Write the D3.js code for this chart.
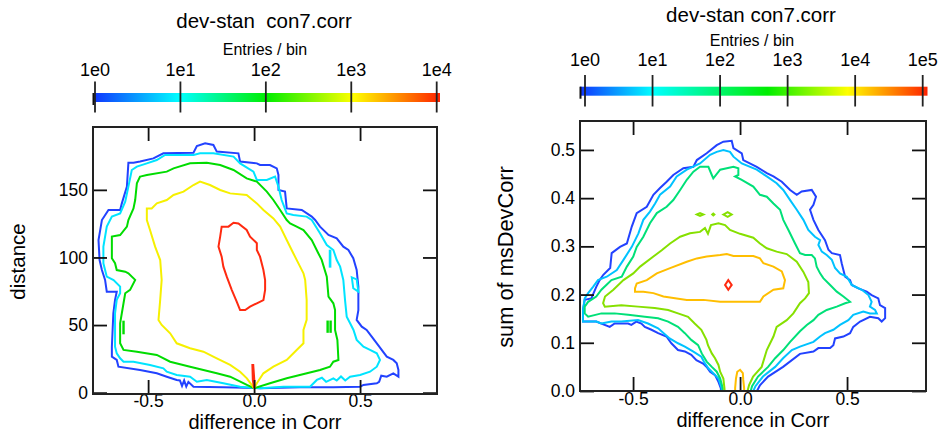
<!DOCTYPE html>
<html><head><meta charset="utf-8">
<script src="https://cdn.jsdelivr.net/npm/d3@7"></script>
<style>
html,body{margin:0;padding:0;background:#fff;}
svg{display:block;font-family:"Liberation Sans",Arial,Helvetica,sans-serif;}
</style></head><body>
<svg id="c" width="938" height="434"></svg>
<script>
// ---------------- DATA ----------------
// Left panel: x = difference in Corr, y = distance
const leftXTicks = [-0.5, 0, 0.5];
const leftYTicks = [0, 50, 100, 150];
const leftCbValues = [1, 10, 100, 1000, 10000];
const leftCbLabels = ["1e0", "1e1", "1e2", "1e3", "1e4"];

const leftBlue = [[-0.593,170],[-0.569,170],[-0.538,171],[-0.475,173.3],[-0.428,177],[-0.286,177.5],[-0.270,182.4],[-0.231,184.4],[-0.192,183.2],[-0.176,178.3],[-0.074,177],[-0.066,170.9],[0.013,169.6],[0.028,168.4],[0.075,168.4],[0.107,165.9],[0.115,161],[0.115,149.9],[0.146,148.7],[0.154,136.3],[0.225,135.1],[0.272,130.2],[0.288,127.7],[0.311,122.8],[0.351,116.6],[0.390,114.2],[0.421,108],[0.445,105.5],[0.468,99.4],[0.484,90.8],[0.492,78.4],[0.492,68.5],[0.492,61.1],[0.484,53.8],[0.508,48.8],[0.531,46.4],[0.555,41.4],[0.579,36.5],[0.602,31.6],[0.626,26.6],[0.657,24.2],[0.673,21.7],[0.681,16.8],[0.681,11.8],[0.657,14.3],[0.626,11.8],[0.600,12.5],[0.590,8],[0.579,6.9],[0.516,5.7],[0.500,4.4],[0.374,4],[0.217,4],[0.028,3.3],[-0.145,4],[-0.286,4.4],[-0.31,8],[-0.32,4.5],[-0.33,9],[-0.34,5],[-0.35,9],[-0.365,9.4],[-0.412,11.8],[-0.459,14.3],[-0.538,16.8],[-0.640,19.2],[-0.648,24.2],[-0.671,26.6],[-0.671,34],[-0.664,58.7],[-0.656,68.6],[-0.648,74.7],[-0.695,74.7],[-0.703,83.4],[-0.718,90.7],[-0.729,98.1],[-0.734,112.9],[-0.718,127.7],[-0.687,135.1],[-0.632,135.1],[-0.624,140],[-0.600,152.4]];
const leftCyan = [[-0.577,164.7],[-0.553,167.2],[-0.506,169.6],[-0.459,172.1],[-0.420,175.8],[-0.286,175.8],[-0.255,177],[-0.192,177],[-0.097,174.6],[-0.066,169.6],[-0.003,163.5],[0.013,157.3],[0.060,157.3],[0.099,159.8],[0.115,152.4],[0.130,142.5],[0.154,132.6],[0.185,131.4],[0.248,130.2],[0.272,127.7],[0.311,117.9],[0.343,109.2],[0.374,105.5],[0.390,98.1],[0.406,93.2],[0.421,83.4],[0.429,68.6],[0.437,56.2],[0.453,51.3],[0.469,46.4],[0.484,39],[0.516,34],[0.547,31.6],[0.579,29.1],[0.594,24.2],[0.579,19.2],[0.547,15.5],[0.500,13.1],[0.453,11.8],[0.43,9],[0.41,12],[0.39,9],[0.374,10.6],[0.34,8],[0.32,11],[0.296,9.4],[0.264,4.4],[0.138,4.4],[0.028,3.3],[-0.066,4.4],[-0.145,6.9],[-0.223,9.4],[-0.270,8.1],[-0.302,11.8],[-0.365,13.1],[-0.412,15.5],[-0.428,18],[-0.491,20.5],[-0.569,22.9],[-0.616,22.9],[-0.632,25.4],[-0.648,29.1],[-0.656,34],[-0.656,58.7],[-0.648,68.6],[-0.632,73.5],[-0.632,78.4],[-0.663,83.3],[-0.695,85.8],[-0.711,95.7],[-0.711,108],[-0.695,122.8],[-0.671,130.2],[-0.632,132.6],[-0.608,141.3],[-0.593,152.4]];
const leftCyanIsland1 = [[0.461,85.3],[0.484,83.8],[0.492,74.7],[0.468,77.2]];
const leftCyanIsland2 = [[0.357,105],[0.360,105],[0.360,93.2],[0.357,93.2]];
const leftGreen = [[-0.538,159.8],[-0.506,161],[-0.412,163.5],[-0.380,165.9],[-0.302,169.6],[-0.223,170.1],[-0.160,168.4],[-0.097,164.7],[-0.035,158.5],[0.013,156.1],[0.060,148.7],[0.091,142.5],[0.123,135.1],[0.154,127.7],[0.170,125.2],[0.201,122.8],[0.233,120.3],[0.272,112.9],[0.303,103.1],[0.319,98.2],[0.343,85.8],[0.351,71],[0.374,66.1],[0.382,61.2],[0.382,46.4],[0.393,39],[0.398,24.2],[0.374,22.9],[0.358,19.2],[0.311,16.8],[0.249,14.3],[0.154,10.6],[0.075,6.9],[0,3.3],[-0.034,5.7],[-0.113,11.8],[-0.176,14.3],[-0.239,16.8],[-0.302,19.2],[-0.396,22.9],[-0.459,27.9],[-0.553,30.3],[-0.616,31.6],[-0.632,36.5],[-0.632,51.3],[-0.624,58.7],[-0.616,66.1],[-0.608,73.5],[-0.585,76],[-0.561,83.4],[-0.593,88.3],[-0.608,89.5],[-0.648,90.7],[-0.656,95.7],[-0.671,99.4],[-0.671,115.4],[-0.632,116.6],[-0.600,122.8],[-0.593,127.7],[-0.569,136.3],[-0.561,142.5],[-0.553,154.8]];
const leftGreenIsland1 = [[-0.617,52.5],[-0.615,52.5],[-0.615,43.9],[-0.617,43.9]];
const leftGreenIsland2 = [[0.346,52.6],[0.348,52.6],[0.348,45],[0.346,45]];
const leftGreenIsland3 = [[0.360,52.6],[0.362,52.6],[0.362,45],[0.360,45]];
const leftYellow = [[-0.506,136.3],[-0.483,136.3],[-0.459,140],[-0.412,142.5],[-0.380,146.2],[-0.333,148.7],[-0.286,153.6],[-0.255,156.1],[-0.208,153.6],[-0.160,149.9],[-0.113,147.4],[-0.035,146.2],[0.013,140],[0.044,135.1],[0.091,128.9],[0.123,122.8],[0.154,112.9],[0.185,103.1],[0.217,93.2],[0.233,88.3],[0.241,83.4],[0.248,68.6],[0.248,53.8],[0.233,46.4],[0.233,36.5],[0.201,31.6],[0.154,24.2],[0.091,19.2],[0.044,14.3],[0.013,6.9],[0,3.3],[-0.034,10.6],[-0.066,15.5],[-0.113,20.5],[-0.176,25.4],[-0.239,30.3],[-0.302,32.8],[-0.365,36.5],[-0.396,43.9],[-0.436,50.1],[-0.451,53.8],[-0.443,68.6],[-0.436,83.4],[-0.443,98.1],[-0.467,108],[-0.491,120.3],[-0.506,127.7]];
const leftRed = [[-0.153,122.8],[-0.121,122.8],[-0.097,125.7],[-0.074,125.2],[-0.035,120.3],[-0.019,115.4],[0.013,110.5],[0.013,105.5],[0.028,100.6],[0.044,90.7],[0.052,83.3],[0.052,75.9],[0.044,68.5],[0.013,66.1],[-0.019,63.6],[-0.042,61.1],[-0.066,61.1],[-0.082,67.3],[-0.105,75.9],[-0.129,85.8],[-0.145,93.2],[-0.153,100.6],[-0.168,108],[-0.160,115.4]];
const leftRedSpike = [[-0.008,20.5],[-0.004,20.5],[0.001,9.4],[0,3.3],[-0.006,9.4]];

// Right panel: x = difference in Corr, y = sum of msDevCorr
const rightXTicks = [-0.5, 0, 0.5];
const rightYTicks = [0, 0.1, 0.2, 0.3, 0.4, 0.5];
const rightCbValues = [1, 10, 100, 1000, 10000, 100000];
const rightCbLabels = ["1e0", "1e1", "1e2", "1e3", "1e4", "1e5"];

const rightBlue = [[-0.089,0],[-0.090,0.006],[-0.101,0.019],[-0.117,0.033],[-0.140,0.040],[-0.156,0.050],[-0.173,0.057],[-0.204,0.064],[-0.228,0.075],[-0.258,0.082],[-0.290,0.085],[-0.321,0.099],[-0.344,0.113],[-0.383,0.120],[-0.414,0.127],[-0.445,0.133],[-0.461,0.140],[-0.485,0.144],[-0.508,0.137],[-0.523,0.140],[-0.586,0.140],[-0.609,0.133],[-0.672,0.144],[-0.734,0.144],[-0.734,0.168],[-0.726,0.189],[-0.695,0.192],[-0.672,0.216],[-0.656,0.230],[-0.639,0.241],[-0.607,0.255],[-0.600,0.286],[-0.561,0.299],[-0.529,0.306],[-0.506,0.341],[-0.483,0.369],[-0.436,0.382],[-0.405,0.407],[-0.374,0.421],[-0.343,0.434],[-0.312,0.448],[-0.265,0.462],[-0.218,0.465],[-0.202,0.479],[-0.156,0.493],[-0.109,0.510],[-0.078,0.517],[-0.039,0.519],[-0.031,0.504],[0.008,0.493],[0.015,0.479],[0.078,0.465],[0.125,0.452],[0.156,0.445],[0.195,0.434],[0.234,0.417],[0.265,0.407],[0.288,0.414],[0.335,0.417],[0.355,0.403],[0.343,0.386],[0.327,0.376],[0.343,0.355],[0.366,0.334],[0.397,0.313],[0.413,0.293],[0.429,0.286],[0.467,0.282],[0.475,0.265],[0.483,0.251],[0.491,0.237],[0.514,0.230],[0.522,0.220],[0.553,0.213],[0.592,0.206],[0.615,0.199],[0.646,0.192],[0.654,0.178],[0.678,0.172],[0.678,0.151],[0.662,0.144],[0.646,0.151],[0.607,0.154],[0.561,0.144],[0.529,0.133],[0.514,0.120],[0.483,0.113],[0.444,0.109],[0.436,0.095],[0.421,0.089],[0.366,0.089],[0.343,0.082],[0.280,0.077],[0.201,0.050],[0.131,0.030],[0.093,0.012],[0.079,0]];
const rightCyan = [[-0.086,0],[-0.086,0.006],[-0.101,0.026],[-0.125,0.037],[-0.148,0.047],[-0.168,0.060],[-0.181,0.071],[-0.220,0.082],[-0.258,0.092],[-0.290,0.099],[-0.329,0.109],[-0.383,0.130],[-0.430,0.140],[-0.477,0.147],[-0.555,0.144],[-0.601,0.144],[-0.648,0.140],[-0.672,0.144],[-0.734,0.144],[-0.734,0.168],[-0.726,0.192],[-0.710,0.203],[-0.687,0.216],[-0.664,0.230],[-0.623,0.237],[-0.576,0.251],[-0.545,0.272],[-0.506,0.299],[-0.475,0.327],[-0.452,0.355],[-0.421,0.372],[-0.397,0.389],[-0.374,0.407],[-0.327,0.424],[-0.296,0.445],[-0.249,0.459],[-0.187,0.472],[-0.140,0.490],[-0.109,0.496],[-0.078,0.500],[-0.047,0.496],[-0.031,0.486],[0.008,0.472],[0.078,0.459],[0.125,0.445],[0.171,0.431],[0.202,0.417],[0.234,0.396],[0.265,0.376],[0.296,0.355],[0.319,0.334],[0.350,0.320],[0.374,0.313],[0.366,0.303],[0.382,0.289],[0.405,0.282],[0.429,0.272],[0.444,0.255],[0.467,0.244],[0.499,0.237],[0.522,0.220],[0.569,0.210],[0.600,0.199],[0.615,0.185],[0.607,0.175],[0.631,0.168],[0.639,0.161],[0.607,0.161],[0.576,0.165],[0.529,0.158],[0.506,0.147],[0.467,0.137],[0.436,0.127],[0.397,0.120],[0.374,0.113],[0.343,0.102],[0.280,0.092],[0.242,0.085],[0.201,0.068],[0.164,0.050],[0.107,0.030],[0.072,0.010],[0.062,0]];
const rightTeal = [[-0.081,0],[-0.081,0.006],[-0.093,0.026],[-0.109,0.040],[-0.132,0.050],[-0.156,0.061],[-0.179,0.078],[-0.196,0.095],[-0.228,0.106],[-0.258,0.120],[-0.290,0.133],[-0.336,0.144],[-0.383,0.151],[-0.445,0.154],[-0.523,0.158],[-0.586,0.161],[-0.648,0.161],[-0.710,0.154],[-0.726,0.161],[-0.726,0.175],[-0.710,0.185],[-0.672,0.196],[-0.648,0.210],[-0.625,0.220],[-0.601,0.230],[-0.553,0.237],[-0.529,0.258],[-0.499,0.279],[-0.483,0.299],[-0.452,0.320],[-0.421,0.348],[-0.389,0.369],[-0.343,0.382],[-0.312,0.396],[-0.280,0.417],[-0.249,0.438],[-0.218,0.455],[-0.187,0.465],[-0.148,0.465],[-0.132,0.448],[-0.125,0.441],[-0.093,0.459],[-0.062,0.462],[-0.031,0.465],[-0.008,0.462],[-0.008,0.448],[-0.023,0.445],[0.008,0.438],[0.062,0.424],[0.093,0.407],[0.125,0.403],[0.156,0.389],[0.187,0.376],[0.202,0.355],[0.226,0.334],[0.257,0.306],[0.280,0.286],[0.304,0.282],[0.335,0.282],[0.350,0.275],[0.358,0.258],[0.374,0.244],[0.389,0.234],[0.421,0.220],[0.452,0.206],[0.483,0.196],[0.514,0.185],[0.491,0.182],[0.452,0.175],[0.405,0.168],[0.366,0.158],[0.343,0.147],[0.312,0.137],[0.280,0.124],[0.234,0.102],[0.202,0.085],[0.164,0.068],[0.131,0.050],[0.084,0.030],[0.056,0.010],[0.050,0]];
const rightLime = [[-0.072,0],[-0.073,0.006],[-0.078,0.026],[-0.093,0.040],[-0.101,0.054],[-0.117,0.068],[-0.132,0.078],[-0.150,0.095],[-0.157,0.106],[-0.181,0.127],[-0.212,0.140],[-0.243,0.154],[-0.290,0.161],[-0.336,0.168],[-0.399,0.172],[-0.477,0.175],[-0.555,0.178],[-0.632,0.175],[-0.640,0.182],[-0.631,0.196],[-0.592,0.210],[-0.545,0.230],[-0.499,0.244],[-0.467,0.258],[-0.405,0.279],[-0.366,0.292],[-0.327,0.306],[-0.280,0.320],[-0.234,0.327],[-0.187,0.330],[-0.164,0.338],[-0.150,0.326],[-0.136,0.344],[-0.101,0.348],[-0.070,0.344],[-0.047,0.334],[0,0.326],[0.062,0.318],[0.093,0.306],[0.125,0.296],[0.171,0.289],[0.218,0.284],[0.265,0.268],[0.296,0.247],[0.319,0.226],[0.322,0.203],[0.304,0.192],[0.280,0.182],[0.249,0.161],[0.218,0.147],[0.171,0.133],[0.156,0.113],[0.136,0.095],[0.125,0.085],[0.101,0.050],[0.061,0.030],[0.042,0.012],[0.035,0]];
const rightLimeIsland1 = [[-0.202,0.366],[-0.187,0.369],[-0.171,0.366],[-0.187,0.363]];
const rightLimeIsland2 = [[-0.130,0.366],[-0.125,0.368],[-0.120,0.366],[-0.125,0.364]];
const rightLimeIsland3 = [[-0.078,0.366],[-0.058,0.371],[-0.039,0.366],[-0.058,0.361]];
const rightOrange = [[-0.491,0.213],[-0.483,0.223],[-0.436,0.230],[-0.389,0.244],[-0.327,0.255],[-0.249,0.268],[-0.202,0.275],[-0.156,0.279],[-0.093,0.282],[-0.062,0.284],[-0.031,0.280],[0.062,0.280],[0.093,0.275],[0.109,0.265],[0.156,0.258],[0.195,0.248],[0.210,0.230],[0.202,0.213],[0.156,0.210],[0.109,0.196],[0.093,0.185],[0.031,0.185],[-0.093,0.185],[-0.171,0.189],[-0.249,0.189],[-0.296,0.192],[-0.358,0.196],[-0.405,0.203],[-0.452,0.206],[-0.491,0.206]];
const rightOrangeFoot = [[-0.023,0],[-0.023,0.006],[-0.019,0.026],[-0.013,0.040],[0,0.044],[0.013,0.037],[0.015,0.023],[0.019,0.006],[0.019,0]];
const rightRed = [[-0.055,0.230],[-0.039,0.220],[-0.055,0.210],[-0.070,0.220]];

// ---------------- STYLE ----------------
const leftColors = {blue:"#2242ff", cyan:"#00e4ff", green:"#00dc00", yellow:"#f6f000", red:"#ff2a10"};
const rightColors = {blue:"#2242ff", cyan:"#00c2ff", teal:"#00e078", lime:"#86e000", orange:"#ffbe00", red:"#ff2a10"};
const leftStops = [[0,"#1034ff"],[0.25,"#00ffff"],[0.5,"#00ee00"],[0.75,"#ffff00"],[1,"#ff2200"]];
const rightStops = [[0,"#1034ff"],[0.21,"#00ffff"],[0.54,"#00ee00"],[0.77,"#ffff00"],[1,"#ff2200"]];

const svg = d3.select("#c");
svg.append("rect").attr("width",938).attr("height",434).attr("fill","#fff");
const defs = svg.append("defs");

function panel(o){
  const x = d3.scaleLinear().domain(o.xDomain).range(o.xRange);
  const y = d3.scaleLinear().domain(o.yDomain).range(o.yRange);
  const g = svg.append("g");
  const [x0,x1] = o.xRange, [y0,y1] = [o.yRange[1], o.yRange[0]];
  defs.append("clipPath").attr("id", o.id+"clip").append("rect")
    .attr("x",x0).attr("y",y0).attr("width",x1-x0).attr("height",y1-y0);

  // contours
  const cg = g.append("g").attr("clip-path","url(#"+o.id+"clip)");
  const lineOpen = d3.line().x(d=>x(d[0])).y(d=>y(d[1]));
  const lineClosed = d3.line().x(d=>x(d[0])).y(d=>y(d[1])).curve(d3.curveLinearClosed);
  o.contours.forEach(c=>{
    cg.append("path").attr("d",(c.closed?lineClosed:lineOpen)(c.pts))
      .attr("fill","none").attr("stroke",c.color).attr("stroke-width",2)
      .attr("stroke-linejoin","miter");
  });

  // axes with inner ticks on four sides
  const tl = 14;
  const fmtX = d=>d.toFixed(1);
  const ax = g.append("g").attr("transform",`translate(0,${y1})`)
    .call(d3.axisBottom(x).tickValues(o.xTicks).tickSize(-tl).tickSizeOuter(0).tickPadding(o.xPad).tickFormat(fmtX));
  const at = g.append("g").attr("transform",`translate(0,${y0})`)
    .call(d3.axisTop(x).tickValues(o.xTicks).tickSize(-tl).tickSizeOuter(0).tickFormat(""));
  const al = g.append("g").attr("transform",`translate(${x0},0)`)
    .call(d3.axisLeft(y).tickValues(o.yTicks).tickSize(-tl).tickSizeOuter(0).tickPadding(5).tickFormat(o.yFmt));
  const ar = g.append("g").attr("transform",`translate(${x1},0)`)
    .call(d3.axisRight(y).tickValues(o.yTicks).tickSize(-tl).tickSizeOuter(0).tickFormat(""));
  [ax,at,al,ar].forEach(a=>{
    a.select(".domain").remove();
    a.selectAll(".tick line").attr("stroke","#111").attr("stroke-width",1.8);
    a.selectAll("text").attr("font-size",17.5).attr("fill","#000").attr("font-family",'"Liberation Sans",Arial,sans-serif');
  });

  // frame
  g.append("rect").attr("x",x0).attr("y",y0).attr("width",x1-x0).attr("height",y1-y0)
    .attr("fill","none").attr("stroke","#222").attr("stroke-width",2);

  // axis titles
  g.append("text").attr("x",(x0+x1)/2).attr("y",o.xTitleY).attr("text-anchor","middle")
    .attr("font-size",20).text(o.xTitle);
  g.append("text").attr("transform",`translate(${o.yTitleX},${(y0+y1)/2+1}) rotate(-90)`)
    .attr("text-anchor","middle").attr("font-size",o.yTitleSize).text(o.yTitle);

  // title + colour bar
  g.append("text").attr("x",o.titleX).attr("y",o.titleY).attr("text-anchor","middle")
    .attr("font-size",20.5).style("white-space","pre").text(o.title);
  g.append("text").attr("x",o.titleX+1).attr("y",o.entriesY).attr("text-anchor","middle")
    .attr("font-size",16).text("Entries / bin");
  const gid = o.id+"grad";
  const lg = defs.append("linearGradient").attr("id",gid).attr("x1","0").attr("x2","1").attr("y1","0").attr("y2","0");
  o.stops.forEach(s=>lg.append("stop").attr("offset",s[0]).attr("stop-color",s[1]));
  const cb = d3.scaleLog().domain([o.cbValues[0], o.cbValues[o.cbValues.length-1]]).range(o.cbRange);
  g.append("rect").attr("x",o.barX[0]).attr("y",o.barY).attr("width",o.barX[1]-o.barX[0]).attr("height",o.barH)
    .attr("fill",`url(#${gid})`);
  g.append("rect").attr("x",o.barX[0]-0.5).attr("y",o.barY).attr("width",2).attr("height",o.barH+3).attr("fill","#111");
  const tk = g.append("g");
  o.cbValues.forEach((v,i)=>{
    tk.append("line").attr("x1",cb(v)).attr("x2",cb(v)).attr("y1",o.cbTick[0]).attr("y2",o.cbTick[1])
      .attr("stroke","#222").attr("stroke-width",1.8);
    tk.append("text").attr("x",cb(v)).attr("y",o.cbLabelY).attr("text-anchor","middle")
      .attr("font-size",18).text(o.cbLabels[i]);
  });
}

panel({
  id:"L", xDomain:[-0.76,0.863], xRange:[93,437], yDomain:[-1,196.5], yRange:[394,127],
  xTicks:leftXTicks, yTicks:leftYTicks, yFmt:d=>String(d), xPad:0.6,
  contours:[
    {pts:leftBlue,color:leftColors.blue,closed:true},
    {pts:leftCyan,color:leftColors.cyan,closed:true},
    {pts:leftCyanIsland1,color:leftColors.cyan,closed:true},
    {pts:leftCyanIsland2,color:leftColors.cyan,closed:true},
    {pts:leftGreen,color:leftColors.green,closed:true},
    {pts:leftGreenIsland1,color:leftColors.green,closed:true},
    {pts:leftGreenIsland2,color:leftColors.green,closed:true},
    {pts:leftGreenIsland3,color:leftColors.green,closed:true},
    {pts:leftYellow,color:leftColors.yellow,closed:true},
    {pts:leftRed,color:leftColors.red,closed:true},
    {pts:leftRedSpike,color:leftColors.red,closed:true}
  ],
  xTitle:"difference in Corr", xTitleY:429, yTitle:"distance", yTitleX:25, yTitleSize:20.5,
  title:"dev-stan  con7.corr", titleX:264, titleY:28, entriesY:55,
  stops:leftStops, cbValues:leftCbValues, cbLabels:leftCbLabels, cbRange:[95,436.7],
  barX:[93,440], barY:93, barH:9, cbTick:[81.5,112.5], cbLabelY:75.5
});

panel({
  id:"R", xDomain:[-0.748,0.869], xRange:[580,926], yDomain:[0,0.56], yRange:[391,121],
  xTicks:rightXTicks, yTicks:rightYTicks, yFmt:d=>d.toFixed(1), xPad:1.1,
  contours:[
    {pts:rightBlue,color:rightColors.blue,closed:false},
    {pts:rightCyan,color:rightColors.cyan,closed:false},
    {pts:rightTeal,color:rightColors.teal,closed:false},
    {pts:rightLime,color:rightColors.lime,closed:false},
    {pts:rightLimeIsland1,color:rightColors.lime,closed:true},
    {pts:rightLimeIsland2,color:rightColors.lime,closed:true},
    {pts:rightLimeIsland3,color:rightColors.lime,closed:true},
    {pts:rightOrange,color:rightColors.orange,closed:true},
    {pts:rightOrangeFoot,color:rightColors.orange,closed:false},
    {pts:rightRed,color:rightColors.red,closed:true}
  ],
  xTitle:"difference in Corr", xTitleY:427, yTitle:"sum of msDevCorr", yTitleX:513, yTitleSize:21.8,
  title:"dev-stan con7.corr", titleX:751, titleY:21.5, entriesY:46,
  stops:rightStops, cbValues:rightCbValues, cbLabels:rightCbLabels, cbRange:[585,922.7],
  barX:[580,927.5], barY:86.7, barH:9, cbTick:[75,106.5], cbLabelY:66
});
</script>
</body></html>
